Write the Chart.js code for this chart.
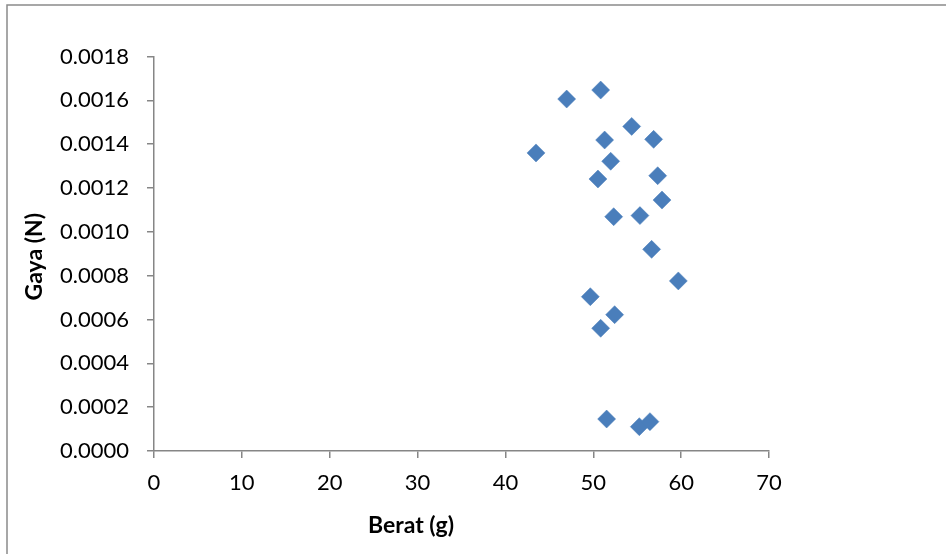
<!DOCTYPE html>
<html>
<head>
<meta charset="utf-8">
<script src="https://cdn.jsdelivr.net/npm/chart.js@4/dist/chart.umd.min.js"></script>
<style>
  html, body { margin: 0; padding: 0; background: #fff; }
  #wrap { width: 946px; height: 554px; position: relative; }
</style>
</head>
<body>
<div id="wrap"><canvas id="c" width="946" height="554"></canvas></div>
<script>
// Berat (g) vs Gaya (N) measurements
const berat = [46.97, 50.84, 54.37, 56.87, 51.29, 43.48, 51.98, 57.33, 50.53, 57.82,
               52.32, 55.31, 56.64, 59.68, 49.66, 52.43, 50.84, 51.52, 55.24, 56.45];
const gaya  = [0.001606, 0.001647, 0.001481, 0.001422, 0.001419, 0.001360, 0.001322, 0.001256, 0.001241, 0.001145,
               0.001069, 0.001074, 0.000920, 0.000776, 0.000704, 0.000622, 0.000560, 0.000146, 0.000111, 0.000134];

const xTicks = [0, 10, 20, 30, 40, 50, 60, 70];
const yTicks = [0, 0.0002, 0.0004, 0.0006, 0.0008, 0.0010, 0.0012, 0.0014, 0.0016, 0.0018];

const xTitle = 'Berat (g)';
const yTitle = 'Gaya (N)';

const points = berat.map((b, i) => ({ x: b, y: gaya[i] }));

const AXIS = '#868686';
const MARK = '#4A7EBB';
const FONT = 'Lato, "Open Sans", sans-serif';

const frameAndTitles = {
  id: 'frameAndTitles',
  beforeDraw(chart) {
    const ctx = chart.ctx;
    ctx.save();
    ctx.fillStyle = '#fff';
    ctx.fillRect(0, 0, chart.width, chart.height);
    ctx.strokeStyle = '#8a8a8a';
    ctx.lineWidth = 1.5;
    ctx.strokeRect(7, 5, chart.width + 20, chart.height + 20);
    ctx.restore();
  },
  afterDraw(chart) {
    const ctx = chart.ctx;
    const a = chart.chartArea;
    ctx.save();
    ctx.fillStyle = '#000';
    ctx.font = 'bold 23px ' + FONT;
    ctx.textAlign = 'center';
    ctx.textBaseline = 'middle';
    ctx.fillText(xTitle, a.left + 257, a.bottom + 75);
    ctx.translate(35, (a.top + a.bottom) / 2 + 3);
    ctx.rotate(-Math.PI / 2);
    ctx.fillText(yTitle, 0, 0);
    ctx.restore();
  }
};

new Chart(document.getElementById('c'), {
  type: 'scatter',
  data: {
    datasets: [{
      data: points,
      pointStyle: 'rectRot',
      pointRadius: 9,
      pointHoverRadius: 9,
      backgroundColor: MARK,
      borderColor: MARK,
      borderWidth: 0.5
    }]
  },
  options: {
    responsive: false,
    animation: false,
    devicePixelRatio: 1,
    layout: { padding: { left: 0, top: 56.5, right: 177, bottom: 0 } },
    plugins: { legend: { display: false }, tooltip: { enabled: false } },
    scales: {
      x: {
        type: 'linear',
        min: 0, max: 70,
        afterBuildTicks: s => { s.ticks = xTicks.map(v => ({ value: v })); },
        afterFit: s => { s.height = 103; },
        border: { color: AXIS, width: 1.5 },
        grid: { drawOnChartArea: false, drawTicks: true, tickLength: 7, color: AXIS, lineWidth: 1.5 },
        ticks: { color: '#000', font: { family: FONT, size: 22 }, padding: 12, maxRotation: 0,
                 callback: v => String(v) }
      },
      y: {
        type: 'linear',
        min: 0, max: 0.0018,
        afterBuildTicks: s => { s.ticks = yTicks.map(v => ({ value: v })); },
        afterFit: s => { s.width = 154; },
        border: { color: AXIS, width: 1.5 },
        grid: { drawOnChartArea: false, drawTicks: true, tickLength: 7, color: AXIS, lineWidth: 1.5 },
        ticks: { color: '#000', font: { family: FONT, size: 22 }, padding: 18,
                 callback: v => Number(v).toFixed(4) }
      }
    }
  },
  plugins: [frameAndTitles]
});
</script>
</body>
</html>
